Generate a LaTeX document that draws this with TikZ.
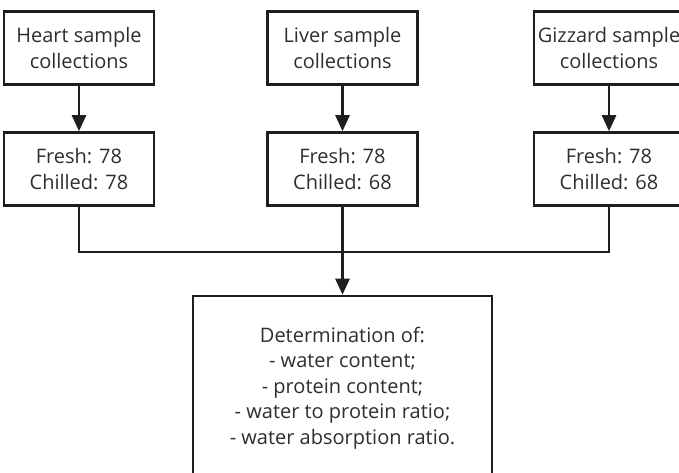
\documentclass[tikz,border=0pt]{standalone}
\usepackage{fontspec}
\setmainfont{Open Sans}
\usetikzlibrary{arrows.meta}
\definecolor{inkline}{HTML}{1E1E1E}
\definecolor{inktext}{HTML}{2E2E2E}
\tikzset{
  box/.style={draw=inkline, line width=2.6pt, align=center, text=inktext,
    inner sep=0pt, font=\fontsize{20}{25.5}\selectfont},
  smallbox/.style={box, minimum width=150pt, minimum height=73pt},
  link/.style={draw=inkline, line width=2.6pt},
  flow/.style={link, -{Triangle[width=14pt,length=16pt]}}
}
\begin{document}
\begin{tikzpicture}[x=1pt,y=-1pt]
  \useasboundingbox (0,0) rectangle (679,472);
  \begin{scope}
    \clip (0,0) rectangle (679,472);
    % sample collections
    \node[smallbox] (heart)   at (79,48)    {Heart sample\\collections};
    \node[smallbox] (liver)   at (342.5,48) {Liver sample\\collections};
    \node[smallbox] (gizzard) at (609,48)   {Gizzard sample\\collections};
    % sample counts
    \node[smallbox] (heartn)   at (79,169)    {Fresh: 78\\Chilled: 78};
    \node[smallbox] (livern)   at (342.5,169) {Fresh: 78\\Chilled: 68};
    \node[smallbox] (gizzardn) at (609,169)   {Fresh: 78\\Chilled: 68};
    % analyses
    \node[box, minimum width=299pt, minimum height=184pt] (det) at (342.5,388)
      {Determination of:\\- water content;\\- protein content;\\- water to protein ratio;\\- water absorption ratio.};
    % junction points on the collecting line
    \coordinate (jl) at (79,252);
    \coordinate (jm) at (342.5,252);
    \coordinate (jr) at (609,252);
    \draw[flow] (heart) -- (heartn);
    \draw[flow] (liver) -- (livern);
    \draw[flow] (gizzard) -- (gizzardn);
    \draw[link] (heartn.south) -- (jl) -- (jr) -- (gizzardn.south);
    \draw[link] (livern.south) -- (jm);
    \draw[flow] (jm) -- (det.north);
  \end{scope}
\end{tikzpicture}
\end{document}
